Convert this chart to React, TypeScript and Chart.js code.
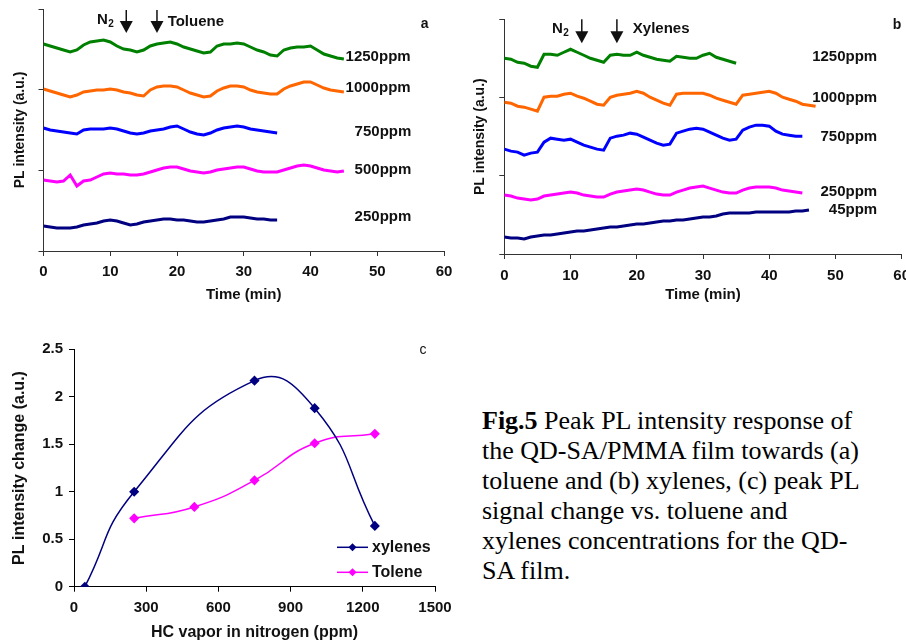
import React, { useEffect, useRef } from 'react';
import { Chart, registerables } from 'chart.js';
Chart.register(...registerables);

const FONT = "'Liberation Sans', Arial, sans-serif";
const INK = '#111';
const AXIS = '#333';

// ---------- Panel a: toluene, PL intensity (a.u.) vs time (min), 1-min samples ----------
const tolA1250 = [207,205,203,201,199,201,206,209,210,211,209,205,202,201,199,201,205,207,208,209,207,204,202,200,198,199,205,207,207,208,207,204,201,199,196,195,201,203,204,204,205,201,197,195,193,192];
const tolA1000 = [162,160,158,156,154,156,159,160,161,161,162,161,159,158,156,155,161,164,165,165,164,161,158,156,154,155,160,163,165,165,164,161,159,158,157,157,162,165,167,169,169,166,163,161,160,159];
const tolA750 = [123,121,120,119,118,117,121,122,122,122,123,122,120,118,117,118,120,121,122,124,125,122,119,117,116,118,121,123,124,125,124,122,121,120,119,118];
const tolA500 = [71,70,69,70,76,65,70,71,74,77,78,77,77,76,76,77,79,81,83,84,84,82,80,79,78,79,81,82,83,84,84,82,80,79,79,79,81,83,85,86,85,83,81,80,79,80];
const tolA250 = [25,24,23,23,23,24,26,27,28,30,31,30,28,26,27,29,30,31,32,32,31,31,30,29,29,30,31,32,34,34,34,33,32,32,31,31];
const A_MAX = 242;
const A_LABELS = [
  { text: '1250ppm', x: 55, y: 194 },
  { text: '1000ppm', x: 55, y: 163 },
  { text: '750ppm', x: 55.1, y: 119 },
  { text: '500ppm', x: 55.1, y: 81 },
  { text: '250ppm', x: 55.1, y: 34 },
];

// ---------- Panel b: xylenes ----------
const xylB1250 = [196,195,192,191,188,187,200,200,199,202,205,202,199,196,194,192,199,200,199,199,202,199,197,195,194,193,198,197,196,196,199,201,197,195,193,191];
const xylB1000 = [152,151,148,147,145,143,157,158,158,160,161,158,156,153,150,149,157,159,160,161,163,161,157,154,151,149,160,161,161,161,161,159,156,154,152,150,159,160,161,162,163,161,157,155,153,150,149,148];
const xylB750 = [105,103,102,99,101,102,112,116,115,114,115,112,109,107,105,104,116,118,119,121,120,117,114,111,109,110,121,123,125,126,125,122,119,116,114,115,124,127,129,129,128,123,120,119,118,118];
const xylB250 = [59,58,56,55,54,55,58,59,60,61,62,61,59,58,57,57,60,62,63,64,65,64,62,60,59,59,62,64,66,67,68,66,64,62,61,61,64,66,67,67,67,66,64,63,62,61];
const xylB45 = [17,16,16,15,17,18,19,19,20,21,22,23,23,24,25,26,27,27,28,29,30,30,31,32,33,33,34,34,35,36,37,37,38,40,41,41,41,41,42,42,42,42,42,42,43,43,44];
const B_MAX = 235;
const B_LABELS = [
  { text: '1250ppm', x: 56.3, y: 197 },
  { text: '1000ppm', x: 56.3, y: 156 },
  { text: '750ppm', x: 56.3, y: 117 },
  { text: '250ppm', x: 56.3, y: 62 },
  { text: '45ppm', x: 56.3, y: 44 },
];

// ---------- Panel c ----------
const ppmXylenes = [45, 250, 750, 1000, 1250];
const changeXylenes = [0, 1.0, 2.17, 1.88, 0.64];
const ppmToluene = [250, 500, 750, 1000, 1250];
const changeToluene = [0.72, 0.84, 1.12, 1.51, 1.61];

const SERIES_COLORS = ['#008000', '#FF6600', '#0000FF', '#FF00FF', '#000080'];

const toXY = (vals: number[]) => vals.map((v, i) => ({ x: i, y: v }));

function drawArrow(ctx: CanvasRenderingContext2D, px: number, top: number, bottom: number) {
  const headH = 12;
  const halfW = 6.5;
  ctx.beginPath();
  ctx.strokeStyle = INK;
  ctx.lineWidth = 1.5;
  ctx.moveTo(px, top);
  ctx.lineTo(px, bottom - headH + 1);
  ctx.stroke();
  ctx.beginPath();
  ctx.fillStyle = INK;
  ctx.moveTo(px - halfW, bottom - headH);
  ctx.lineTo(px + halfW, bottom - headH);
  ctx.lineTo(px, bottom);
  ctx.closePath();
  ctx.fill();
}

const timePanelPlugin = {
  id: 'timePanel',
  afterDatasetsDraw(chart: any, _args: any, opts: any) {
    const { ctx, scales } = chart;
    const x = scales.x, y = scales.y;
    ctx.save();
    ctx.fillStyle = INK;
    ctx.font = `bold 15px ${FONT}`;
    ctx.textAlign = 'right';
    ctx.textBaseline = 'middle';
    for (const l of opts.labels) {
      ctx.fillText(l.text, x.getPixelForValue(l.x), y.getPixelForValue(l.y));
    }
    for (const ax of opts.arrows) {
      drawArrow(ctx, x.getPixelForValue(ax), y.getPixelForValue(opts.arrowTop), y.getPixelForValue(opts.arrowBottom));
    }
    const nx = x.getPixelForValue(opts.n2.x);
    const ny = y.getPixelForValue(opts.n2.y);
    ctx.fillStyle = INK;
    ctx.textAlign = 'left';
    ctx.font = `bold 15px ${FONT}`;
    ctx.fillText('N', nx, ny);
    const nw = ctx.measureText('N').width;
    ctx.font = `bold 10px ${FONT}`;
    ctx.fillText('2', nx + nw + 0.5, ny + 4);
    ctx.font = `bold 15px ${FONT}`;
    ctx.fillText(opts.gas.text, x.getPixelForValue(opts.gas.x), y.getPixelForValue(opts.gas.y));
    ctx.textAlign = 'center';
    ctx.font = `bold 14px ${FONT}`;
    ctx.fillText(opts.letter.text, x.getPixelForValue(opts.letter.x), y.getPixelForValue(opts.letter.y));
    ctx.restore();
  },
};

function timeChartConfig(series: number[][], names: string[], yMax: number, dims: any, ann: any) {
  return {
    type: 'line' as const,
    data: {
      datasets: series.map((s, i) => ({
        label: names[i],
        data: toXY(s),
        borderColor: SERIES_COLORS[i],
        backgroundColor: SERIES_COLORS[i],
        borderWidth: 3,
        pointRadius: 0,
        tension: 0,
        fill: false,
      })),
    },
    plugins: [timePanelPlugin],
    options: {
      animation: false,
      responsive: false,
      events: [],
      layout: { padding: { top: dims.top, right: dims.right, left: 0, bottom: 0 } },
      plugins: {
        legend: { display: false },
        tooltip: { enabled: false },
        timePanel: ann,
      },
      scales: {
        x: {
          type: 'linear',
          min: 0,
          max: 60,
          ticks: { stepSize: 10, color: INK, padding: dims.xTickPad, font: { family: FONT, size: 15, weight: 'bold' } },
          grid: { drawOnChartArea: false, drawTicks: true, tickLength: 5, color: AXIS },
          border: { display: true, color: AXIS, width: 1 },
          title: { display: true, text: 'Time (min)', color: INK, font: { family: FONT, size: 15, weight: 'bold' }, padding: { top: 0, bottom: 6 } },
          afterFit: (s: any) => { s.height = dims.xHeight; },
        },
        y: {
          type: 'linear',
          min: 0,
          max: yMax,
          ticks: { display: false },
          afterBuildTicks: (s: any) => { s.ticks = [0, 1, 2, 3].map((i) => ({ value: (i * yMax) / 3 })); },
          grid: { drawOnChartArea: false, drawTicks: true, tickLength: 5, color: AXIS },
          border: { display: true, color: AXIS, width: 1 },
          title: { display: true, text: 'PL intensity (a.u.)', color: INK, font: { family: FONT, size: 14, weight: 'bold' }, padding: { top: 11.6, bottom: 0 } },
          afterFit: (s: any) => { s.width = dims.yWidth; },
        },
      },
    },
  };
}

const concLegendPlugin = {
  id: 'concLegend',
  afterDatasetsDraw(chart: any) {
    const { ctx, chartArea } = chart;
    ctx.save();
    const items = chart.data.datasets;
    const x0 = chartArea.right - 98;
    items.forEach((ds: any, i: number) => {
      const yy = chartArea.top + 198 + i * 25;
      ctx.strokeStyle = ds.borderColor;
      ctx.lineWidth = 1.5;
      ctx.beginPath();
      ctx.moveTo(x0, yy);
      ctx.lineTo(x0 + 31, yy);
      ctx.stroke();
      ctx.fillStyle = ds.borderColor;
      const cx = x0 + 15.5, r = 4;
      ctx.beginPath();
      ctx.moveTo(cx - r, yy);
      ctx.lineTo(cx, yy - r);
      ctx.lineTo(cx + r, yy);
      ctx.lineTo(cx, yy + r);
      ctx.closePath();
      ctx.fill();
      ctx.fillStyle = INK;
      ctx.font = `bold 16px ${FONT}`;
      ctx.textAlign = 'left';
      ctx.textBaseline = 'middle';
      ctx.fillText(ds.label, x0 + 35, yy);
    });
    ctx.font = `14px ${FONT}`;
    ctx.textAlign = 'center';
    ctx.fillText('c', chartArea.right - 12, chartArea.top + 1);
    ctx.restore();
  },
};

function TimeChart({ cfg, style, w, h }: any) {
  const ref = useRef<HTMLCanvasElement>(null);
  useEffect(() => {
    const c = new Chart(ref.current as HTMLCanvasElement, cfg as any);
    return () => c.destroy();
  }, []);
  return <canvas ref={ref} width={w} height={h} style={{ position: 'absolute', width: w, height: h, ...style }} />;
}

const cfgA = timeChartConfig(
  [tolA1250, tolA1000, tolA750, tolA500, tolA250],
  ['1250ppm', '1000ppm', '750ppm', '500ppm', '250ppm'],
  A_MAX,
  { top: 9, right: 18, xHeight: 59, yWidth: 43.5, xTickPad: 7 },
  {
    labels: A_LABELS,
    arrows: [12.4, 17.0],
    arrowTop: 241,
    arrowBottom: 218,
    n2: { x: 8.0, y: 231 },
    gas: { text: 'Toluene', x: 18.6, y: 229 },
    letter: { text: 'a', x: 57.1, y: 227 },
  }
);

const cfgB = timeChartConfig(
  [xylB1250, xylB1000, xylB750, xylB250, xylB45],
  ['1250ppm', '1000ppm', '750ppm', '250ppm', '45ppm'],
  B_MAX,
  { top: 19.3, right: 18.3, xHeight: 56, yWidth: 44.3, xTickPad: 8 },
  {
    labels: B_LABELS,
    arrows: [11.7, 17.0],
    arrowTop: 235,
    arrowBottom: 211,
    n2: { x: 7.2, y: 225 },
    gas: { text: 'Xylenes', x: 19.4, y: 225 },
    letter: { text: 'b', x: 59.3, y: 229 },
  }
);

const cfgC = {
  type: 'line' as const,
  data: {
    datasets: [
      {
        label: 'xylenes',
        data: ppmXylenes.map((p, i) => ({ x: p, y: changeXylenes[i] })),
        borderColor: '#000080',
        backgroundColor: '#000080',
        borderWidth: 1.5,
        pointStyle: 'rectRot',
        pointRadius: 4,
        tension: 0.5,
        fill: false,
      },
      {
        label: 'Tolene',
        data: ppmToluene.map((p, i) => ({ x: p, y: changeToluene[i] })),
        borderColor: '#FF00FF',
        backgroundColor: '#FF00FF',
        borderWidth: 1.5,
        pointStyle: 'rectRot',
        pointRadius: 4,
        tension: 0.5,
        fill: false,
      },
    ],
  },
  plugins: [concLegendPlugin],
  options: {
    animation: false,
    responsive: false,
    events: [],
    layout: { padding: { top: 19.3, right: 35, left: 0, bottom: 0 } },
    plugins: { legend: { display: false }, tooltip: { enabled: false } },
    scales: {
      x: {
        type: 'linear',
        min: 0,
        max: 1500,
        ticks: { stepSize: 300, color: INK, padding: 7.3, font: { family: FONT, size: 15, weight: 'bold' }, callback: (v: any) => String(v) },
        grid: { drawOnChartArea: false, drawTicks: true, tickLength: 5, color: '#000' },
        border: { display: true, color: '#000', width: 1 },
        title: { display: true, text: 'HC vapor in nitrogen (ppm)', color: INK, font: { family: FONT, size: 16, weight: 'bold' }, padding: { top: 0, bottom: 1.4 } },
        afterFit: (s: any) => { s.height = 57.3; },
      },
      y: {
        type: 'linear',
        min: 0,
        max: 2.5,
        ticks: { stepSize: 0.5, color: INK, padding: 6, font: { family: FONT, size: 15, weight: 'bold' }, callback: (v: any) => String(Number(Number(v).toFixed(1))) },
        grid: { drawOnChartArea: false, drawTicks: true, tickLength: 5, color: '#000' },
        border: { display: true, color: '#000', width: 1 },
        title: { display: true, text: 'PL intensity change (a.u.)', color: INK, font: { family: FONT, size: 16, weight: 'bold' }, padding: { top: 10.4, bottom: 0 } },
        afterFit: (s: any) => { s.width = 74; },
      },
    },
  },
};

export default function App() {
  return (
    <div style={{ position: 'absolute', left: 0, top: 0, width: 906, height: 644, overflow: 'hidden', background: '#fff' }}>
      <TimeChart cfg={cfgA} w={462} h={310} style={{ left: 0, top: 0 }} />
      <TimeChart cfg={cfgB} w={460} h={310} style={{ left: 460, top: 0 }} />
      <TimeChart cfg={cfgC} w={470} h={314} style={{ left: 0, top: 330 }} />
      <div
        style={{
          position: 'absolute',
          left: 482,
          top: 406,
          fontFamily: "'Liberation Serif', 'Times New Roman', serif",
          fontSize: 26,
          lineHeight: '30px',
          color: '#000',
          whiteSpace: 'nowrap',
        }}
      >
        <b>Fig.5</b> Peak PL intensity response of<br />
        the QD-SA/PMMA film towards (a)<br />
        toluene and (b) xylenes, (c) peak PL<br />
        signal change vs. toluene and<br />
        xylenes concentrations for the QD-<br />
        SA film.
      </div>
    </div>
  );
}
